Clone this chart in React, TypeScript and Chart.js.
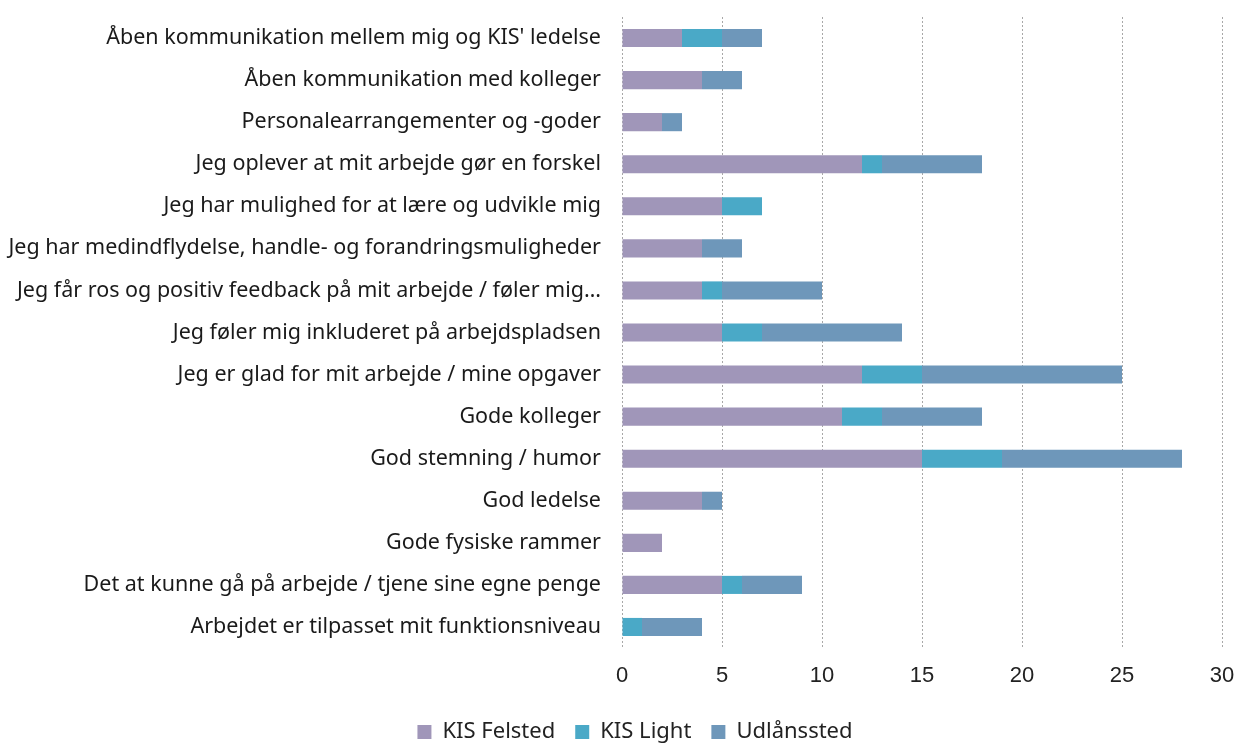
import React, { useEffect, useRef } from "react";
import { Chart, registerables } from "chart.js";

Chart.register(...registerables);

const categories = [
  "Åben kommunikation mellem mig og KIS' ledelse",
  "Åben kommunikation med kolleger",
  "Personalearrangementer og -goder",
  "Jeg oplever at mit arbejde gør en forskel",
  "Jeg har mulighed for at lære og udvikle mig",
  "Jeg har medindflydelse, handle- og forandringsmuligheder",
  "Jeg får ros og positiv feedback på mit arbejde / føler mig…",
  "Jeg føler mig inkluderet på arbejdspladsen",
  "Jeg er glad for mit arbejde / mine opgaver",
  "Gode kolleger",
  "God stemning / humor",
  "God ledelse",
  "Gode fysiske rammer",
  "Det at kunne gå på arbejde / tjene sine egne penge",
  "Arbejdet er tilpasset mit funktionsniveau",
];

const kisFelsted = [3, 4, 2, 12, 5, 4, 4, 5, 12, 11, 15, 4, 2, 5, 0];
const kisLight = [2, 0, 0, 1, 2, 0, 1, 2, 3, 2, 4, 0, 0, 1, 1];
const udlaanssted = [2, 2, 1, 5, 0, 2, 5, 7, 10, 5, 9, 1, 0, 3, 3];

const seriesNames = ["KIS Felsted", "KIS Light", "Udlånssted"];
const seriesColors = ["#a096b9", "#4aa9c7", "#6e97ba"];

const xTicks = [0, 5, 10, 15, 20, 25, 30];

const legendShift = {
  id: "legendShift",
  afterLayout(chart: any) {
    const lg = chart.legend;
    if (!lg) return;
    lg.left += 24;
    lg.right += 24;
    if (typeof lg.adjustHitBoxes === "function") lg.adjustHitBoxes();
  },
};

export default function App() {
  const ref = useRef<HTMLCanvasElement | null>(null);

  useEffect(() => {
    document.body.style.margin = "0";
    if (!ref.current) return;
    const chart = new Chart(ref.current, {
      type: "bar",
      data: {
        labels: categories,
        datasets: [kisFelsted, kisLight, udlaanssted].map((d, i) => ({
          label: seriesNames[i],
          data: d,
          backgroundColor: seriesColors[i],
          borderWidth: 0,
          barPercentage: 0.86,
          categoryPercentage: 0.5,
        })),
      },
      plugins: [legendShift],
      options: {
        indexAxis: "y",
        animation: false,
        responsive: false,
        maintainAspectRatio: false,
        layout: { autoPadding: false, padding: { top: 17, right: 17, left: 0, bottom: -8 } },
        plugins: {
          tooltip: { enabled: false },
          legend: {
            position: "bottom",
            labels: {
              color: "#222",
              font: { family: "'Noto Sans', sans-serif", size: 22 },
              boxWidth: 14,
              boxHeight: 14,
              padding: 20,
            },
          },
        },
        scales: {
          x: {
            stacked: true,
            min: 0,
            max: 30,
            afterBuildTicks: (scale: any) => {
              scale.ticks = xTicks.map((v) => ({ value: v }));
            },
            afterFit: (scale: any) => {
              scale.height = 53;
              scale.paddingLeft = 0;
              scale.paddingRight = 0;
            },
            grid: {
              color: "#a8a8a8",
              lineWidth: 1,
              drawTicks: false,
            },
            border: { display: false, dash: [2, 2] },
            ticks: {
              color: "#222",
              font: { family: "'Liberation Sans', Arial, sans-serif", size: 22 },
              padding: 15,
            },
          },
          y: {
            stacked: true,
            afterFit: (scale: any) => {
              scale.width = 622;
              scale.paddingTop = 0;
              scale.paddingBottom = 0;
            },
            grid: { display: false, drawTicks: false },
            border: { display: false },
            ticks: {
              color: "#1a1a1a",
              font: { family: "'Noto Sans', sans-serif", size: 21.5 },
              padding: 21,
              autoSkip: false,
            },
          },
        },
      },
    });
    return () => chart.destroy();
  }, []);

  return (
    <div style={{ width: 1239, height: 745 }}>
      <canvas ref={ref} width={1239} height={745} style={{ display: "block" }} />
    </div>
  );
}
